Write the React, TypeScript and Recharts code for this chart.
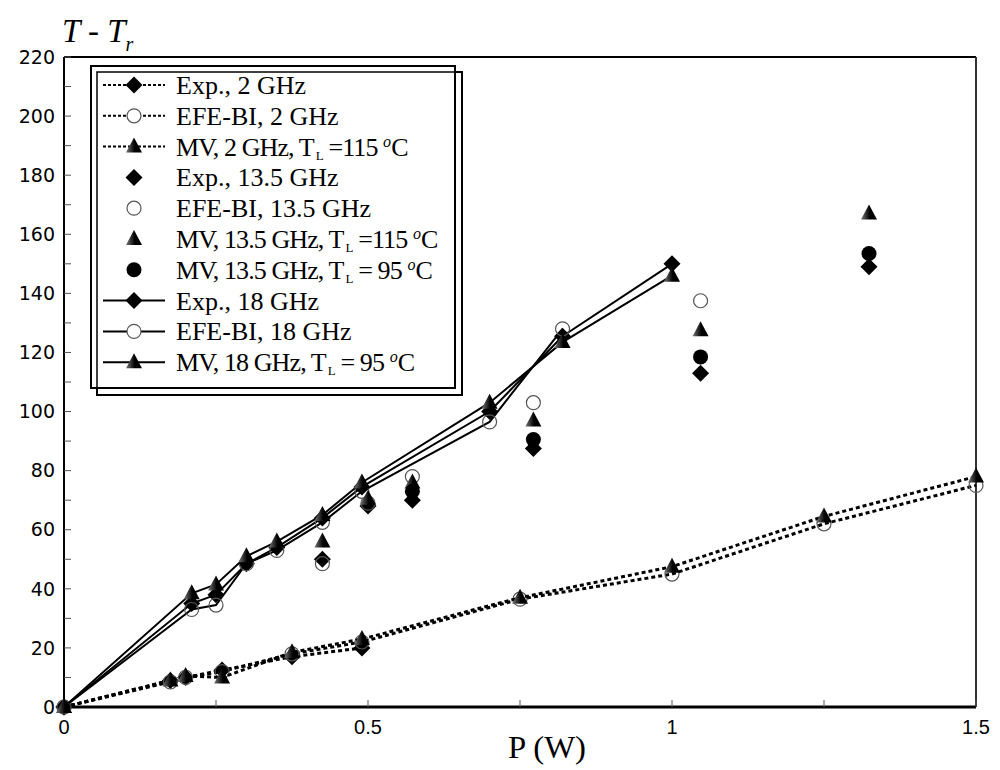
import React from 'react';
import {
  ScatterChart,
  Scatter,
  XAxis,
  YAxis,
  ReferenceLine,
} from 'recharts';

// 2 GHz (dotted lines)
const p2 = [0, 0.175, 0.2, 0.26, 0.375, 0.49, 0.75, 1.0, 1.25, 1.5];
const exp2 = [0, 9, 10, 12.5, 17, 20];
const efe2 = [0, 8.5, 10, 12, 18, 22, 36.5, 45, 62, 75];
const mv2 = [0, 9, 10.5, 10, 18.5, 23, 37, 47.5, 64.5, 78];

// 13.5 GHz (markers only)
const p135 = [0.425, 0.5, 0.573, 0.772, 1.047, 1.324];
const exp135 = [50, 68, 70, 87.5, 113, 149];
const efe135 = [48.5, 69, 78, 103, 137.5];
const mv115_135 = [56, 70.5, 76, 97, 127.5, 167];
const p135mv95 = [0.573, 0.772, 1.047, 1.324];
const mv95_135 = [73, 90.5, 118.5, 153.5];

// 18 GHz (solid lines)
const p18 = [0, 0.21, 0.25, 0.3, 0.35, 0.425, 0.49, 0.7, 0.82, 1.0];
const exp18 = [0, 35, 38, 48.5, 54, 64, 74.5, 100, 125.5, 150];
const efe18 = [0, 33, 34.5, 48.5, 53, 62.5, 73, 96.5, 128];
const mv18 = [0, 38.5, 41.5, 51, 56, 65, 76, 103, 123.5, 146];

const xTicks = [0, 0.25, 0.5, 0.75, 1, 1.25, 1.5];
const yTicks = [0, 10, 20, 30, 40, 50, 60, 70, 80, 90, 100, 110, 120, 130, 140, 150, 160, 170, 180, 190, 200, 210, 220];

const toPoints = (xs: number[], ys: number[]) => ys.map((t, i) => ({ p: xs[i], t }));

type Mark = 'diamond' | 'open' | 'triangle' | 'dot';

const Marker = ({ cx, cy, kind }: { cx: number; cy: number; kind: Mark }) => {
  if (cx == null || cy == null) return null;
  if (kind === 'diamond')
    return <polygon points={`${cx},${cy - 8.5} ${cx + 8.5},${cy} ${cx},${cy + 8.5} ${cx - 8.5},${cy}`} fill="#000" />;
  if (kind === 'triangle')
    return <polygon points={`${cx},${cy - 9} ${cx + 8},${cy + 6} ${cx - 8},${cy + 6}`} fill="url(#triGrad)" />;
  if (kind === 'open') return <circle cx={cx} cy={cy} r={7} fill="none" stroke="#555" strokeWidth={1.2} />;
  return <circle cx={cx} cy={cy} r={7.5} fill="#000" />;
};

const dotted = { stroke: '#000', strokeWidth: 3, strokeDasharray: '4 3' };
const solid = { stroke: '#000', strokeWidth: 2 };

const series = [
  { name: 'Exp., 2 GHz', data: toPoints(p2, exp2), kind: 'diamond' as Mark, line: dotted },
  { name: 'EFE-BI, 2 GHz', data: toPoints(p2, efe2), kind: 'open' as Mark, line: dotted },
  { name: 'MV, 2 GHz', data: toPoints(p2, mv2), kind: 'triangle' as Mark, line: dotted },
  { name: 'Exp., 18 GHz', data: toPoints(p18, exp18), kind: 'diamond' as Mark, line: solid },
  { name: 'EFE-BI, 18 GHz', data: toPoints(p18, efe18), kind: 'open' as Mark, line: solid },
  { name: 'MV, 18 GHz', data: toPoints(p18, mv18), kind: 'triangle' as Mark, line: solid },
  { name: 'Exp., 13.5 GHz', data: toPoints(p135, exp135), kind: 'diamond' as Mark, line: null },
  { name: 'EFE-BI, 13.5 GHz', data: toPoints(p135, efe135), kind: 'open' as Mark, line: null },
  { name: 'MV, 13.5 GHz, 115', data: toPoints(p135, mv115_135), kind: 'triangle' as Mark, line: null },
  { name: 'MV, 13.5 GHz, 95', data: toPoints(p135mv95, mv95_135), kind: 'dot' as Mark, line: null },
];

const legendRows: { label: string; tl?: string; kind: Mark; line: 'dotted' | 'solid' | null }[] = [
  { label: 'Exp., 2 GHz', kind: 'diamond', line: 'dotted' },
  { label: 'EFE-BI, 2 GHz', kind: 'open', line: 'dotted' },
  { label: 'MV, 2 GHz, T', tl: '=115', kind: 'triangle', line: 'dotted' },
  { label: 'Exp., 13.5 GHz', kind: 'diamond', line: null },
  { label: 'EFE-BI, 13.5 GHz', kind: 'open', line: null },
  { label: 'MV, 13.5 GHz, T', tl: '=115', kind: 'triangle', line: null },
  { label: 'MV, 13.5 GHz, T', tl: '= 95', kind: 'dot', line: null },
  { label: 'Exp., 18 GHz', kind: 'diamond', line: 'solid' },
  { label: 'EFE-BI, 18 GHz', kind: 'open', line: 'solid' },
  { label: 'MV, 18 GHz, T', tl: '= 95', kind: 'triangle', line: 'solid' },
];

const serif = '"Liberation Serif", "Times New Roman", serif';
const sans = '"DejaVu Sans", sans-serif';

const Overlay = () => (
  <svg width={1000} height={770} style={{ position: 'absolute', left: 0, top: 0, pointerEvents: 'none' }}>
    <defs>
      <linearGradient id="triGrad" x1="0" x2="1" y1="0" y2="0">
        <stop offset="0%" stopColor="#777" />
        <stop offset="55%" stopColor="#000" />
      </linearGradient>
    </defs>
    {/* axis title */}
    <text x={62} y={42} fontFamily={serif} fontStyle="italic" fontSize={33}>
      T
      <tspan dx={10}>- T</tspan>
      <tspan fontSize={20} dy={9}>r</tspan>
    </text>
    <text x={508} y={758} textLength={78} lengthAdjust="spacingAndGlyphs" fontFamily={serif} fontSize={32}>
      P (W)
    </text>
    {/* legend box */}
    <rect x={97} y={72} width={365} height={323} fill="none" stroke="#000" strokeWidth={2} />
    <rect x={91} y={66} width={364} height={322} fill="#fff" stroke="#000" strokeWidth={2} />
    <rect x={97} y={72} width={358} height={316} fill="none" stroke="#000" strokeWidth={1.5} />
    {legendRows.map((r, i) => {
      const cy = 85 + i * 30.8;
      return (
        <g key={`legend-${i}`}>
          {r.line && (
            <line
              x1={103}
              x2={165}
              y1={cy}
              y2={cy}
              stroke="#000"
              strokeWidth={2}
              strokeDasharray={r.line === 'dotted' ? '3 2' : undefined}
            />
          )}
          {r.kind === 'open' && r.line && <circle cx={134} cy={cy} r={7} fill="#fff" />}
          <Marker cx={134} cy={cy} kind={r.kind} />
          <text x={176} y={cy + 9} fontFamily={serif} fontSize={26} letterSpacing={r.tl ? -0.9 : 0}>
            {r.label}
            {r.tl && (
              <>
                <tspan fontSize={13} dx={2} dy={4}>L</tspan>
                <tspan dy={-4}>{` ${r.tl} `}</tspan>
                <tspan fontSize={16} fontStyle="italic" dy={-9}>o</tspan>
                <tspan dx={1} dy={9}>C</tspan>
              </>
            )}
          </text>
        </g>
      );
    })}
  </svg>
);

export default function App() {
  return (
    <div style={{ position: 'absolute', left: 0, top: 0, width: 1000, height: 770, background: '#fff' }}>
      <ScatterChart width={1000} height={770} margin={{ top: 57, right: 24, left: 14, bottom: 33 }}>
        <XAxis
          type="number"
          dataKey="p"
          domain={[0, 1.5]}
          ticks={xTicks}
          tickFormatter={(v: number) => ((v * 2) % 1 === 0 ? String(v) : '')}
          tickSize={-7}
          tickMargin={20}
          height={30}
          axisLine={{ stroke: '#000', strokeWidth: 3 }}
          tickLine={{ stroke: '#555' }}
          tick={{ fill: '#000', fontSize: 20, fontFamily: '"Liberation Sans", sans-serif' }}
        />
        <YAxis
          type="number"
          dataKey="t"
          domain={[0, 220]}
          ticks={yTicks}
          tickFormatter={(v: number) => (v % 20 === 0 ? String(v) : '')}
          tickSize={-7}
          tickMargin={16}
          width={50}
          axisLine={{ stroke: '#000', strokeWidth: 2 }}
          tickLine={{ stroke: '#555' }}
          tick={{ fill: '#000', fontSize: 19, fontFamily: sans }}
        />
        <ReferenceLine y={220} stroke="#000" strokeWidth={2} />
        <ReferenceLine x={1.5} stroke="#333" strokeWidth={2} />
        {series.map((s) => (
          <Scatter
            key={s.name}
            name={s.name}
            data={s.data}
            line={s.line ? s.line : false}
            lineType="joint"
            isAnimationActive={false}
            shape={(props: any) => <Marker cx={props.cx} cy={props.cy} kind={s.kind} />}
          />
        ))}
      </ScatterChart>
      <Overlay />
    </div>
  );
}
